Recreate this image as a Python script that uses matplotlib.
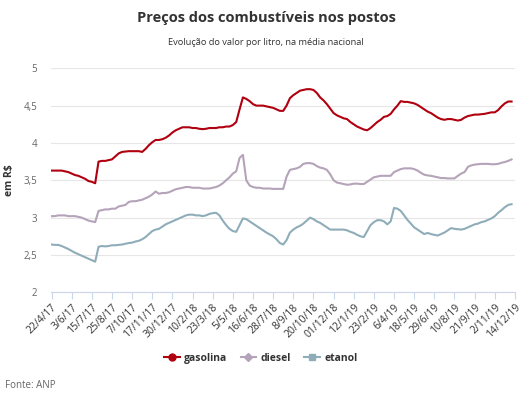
import numpy as np
import matplotlib.pyplot as plt

plt.rcParams['font.family'] = ['Open Sans', 'DejaVu Sans']

# ---- data (weekly, average national price per litre) ----
tick_labels = ['22/4/17', '3/6/17', '15/7/17', '25/8/17', '7/10/17', '17/11/17',
               '30/12/17', '10/2/18', '23/3/18', '5/5/18', '16/6/18', '28/7/18',
               '8/9/18', '20/10/18', '01/12/18', '12/1/19', '23/2/19', '6/4/19',
               '18/5/19', '29/6/19', '10/8/19', '21/9/19', '2/11/19', '14/12/19']

gasolina = [3.63, 3.63, 3.63, 3.63, 3.62, 3.61, 3.59, 3.57, 3.56, 3.54,
            3.52, 3.49, 3.48, 3.46, 3.75, 3.76, 3.76, 3.77, 3.78, 3.82,
            3.86, 3.88, 3.885, 3.89, 3.89, 3.89, 3.89, 3.88, 3.92, 3.97,
            4.01, 4.04, 4.04, 4.05, 4.07, 4.10, 4.14, 4.17, 4.19, 4.21,
            4.21, 4.21, 4.20, 4.20, 4.19, 4.185, 4.19, 4.20, 4.20, 4.20,
            4.21, 4.21, 4.22, 4.22, 4.24, 4.28, 4.45, 4.61, 4.59, 4.56,
            4.52, 4.50, 4.50, 4.50, 4.49, 4.48, 4.47, 4.45, 4.43, 4.43,
            4.50, 4.60, 4.64, 4.67, 4.70, 4.71, 4.72, 4.72, 4.71, 4.67,
            4.61, 4.57, 4.52, 4.46, 4.40, 4.37, 4.35, 4.33, 4.32, 4.28,
            4.25, 4.22, 4.20, 4.18, 4.17, 4.20, 4.24, 4.28, 4.31, 4.35,
            4.36, 4.39, 4.45, 4.50, 4.56, 4.55, 4.55, 4.54, 4.53, 4.51,
            4.48, 4.45, 4.42, 4.40, 4.37, 4.34, 4.32, 4.31, 4.32, 4.32,
            4.31, 4.30, 4.31, 4.34, 4.36, 4.37, 4.38, 4.38, 4.385, 4.39,
            4.40, 4.41, 4.41, 4.44, 4.49, 4.53, 4.555, 4.555]

diesel = [3.02, 3.02, 3.03, 3.03, 3.03, 3.02, 3.02, 3.02, 3.01, 3.00,
          2.98, 2.96, 2.95, 2.94, 3.09, 3.10, 3.11, 3.11, 3.12, 3.12,
          3.15, 3.16, 3.17, 3.21, 3.22, 3.22, 3.23, 3.24, 3.26, 3.28,
          3.31, 3.35, 3.32, 3.33, 3.33, 3.34, 3.36, 3.38, 3.39, 3.40,
          3.41, 3.41, 3.40, 3.40, 3.40, 3.39, 3.39, 3.39, 3.40, 3.41,
          3.43, 3.46, 3.50, 3.54, 3.59, 3.62, 3.80, 3.84, 3.50, 3.43,
          3.41, 3.40, 3.40, 3.39, 3.39, 3.39, 3.385, 3.385, 3.385, 3.385,
          3.55, 3.64, 3.65, 3.66, 3.68, 3.72, 3.73, 3.73, 3.72, 3.69,
          3.67, 3.66, 3.64, 3.58, 3.50, 3.47, 3.46, 3.45, 3.44, 3.445,
          3.455, 3.455, 3.45, 3.45, 3.48, 3.51, 3.54, 3.55, 3.56, 3.56,
          3.56, 3.56, 3.61, 3.63, 3.65, 3.66, 3.66, 3.66, 3.65, 3.63,
          3.60, 3.575, 3.565, 3.56, 3.55, 3.54, 3.53, 3.53, 3.525, 3.525,
          3.525, 3.56, 3.59, 3.61, 3.68, 3.70, 3.71, 3.715, 3.72, 3.72,
          3.72, 3.715, 3.715, 3.72, 3.735, 3.745, 3.76, 3.78]

etanol = [2.64, 2.635, 2.635, 2.62, 2.60, 2.58, 2.555, 2.53, 2.51, 2.49,
          2.47, 2.45, 2.43, 2.41, 2.61, 2.62, 2.615, 2.62, 2.63, 2.63,
          2.635, 2.64, 2.65, 2.66, 2.665, 2.68, 2.69, 2.71, 2.74, 2.78,
          2.82, 2.84, 2.85, 2.88, 2.91, 2.93, 2.95, 2.97, 2.99, 3.01,
          3.03, 3.04, 3.04, 3.03, 3.03, 3.02, 3.03, 3.05, 3.06, 3.065,
          3.03, 2.96, 2.90, 2.85, 2.82, 2.81, 2.90, 2.99, 2.98, 2.95,
          2.92, 2.89, 2.86, 2.83, 2.80, 2.775, 2.75, 2.71, 2.66, 2.64,
          2.70, 2.80, 2.84, 2.87, 2.89, 2.92, 2.96, 3.00, 2.98, 2.95,
          2.93, 2.90, 2.87, 2.84, 2.84, 2.84, 2.84, 2.84, 2.83, 2.81,
          2.795, 2.77, 2.75, 2.74, 2.82, 2.90, 2.94, 2.966, 2.966, 2.95,
          2.91, 2.95, 3.13, 3.12, 3.09, 3.03, 2.97, 2.92, 2.87, 2.84,
          2.81, 2.78, 2.795, 2.78, 2.77, 2.76, 2.78, 2.80, 2.83, 2.86,
          2.85, 2.845, 2.84, 2.85, 2.87, 2.89, 2.91, 2.92, 2.94, 2.95,
          2.97, 2.99, 3.02, 3.065, 3.10, 3.14, 3.17, 3.18]

semanas = np.arange(len(gasolina))

##==============================================================================
fig = plt.figure(figsize=(5.32, 3.97), dpi=100)
ax = fig.add_axes([0.0959, 0.2637, 0.872, 0.5643])

ax.plot(semanas, gasolina, color='#b0000f', lw=1.5, label='gasolina')
ax.plot(semanas, diesel, color='#b5a3b9', lw=1.5, label='diesel')
ax.plot(semanas, etanol, color='#8fadb9', lw=1.5, label='etanol')

ax.set_xlim(-0.15, 138)
ax.set_ylim(2, 5)
ax.set_yticks([2, 2.5, 3, 3.5, 4, 4.5, 5])
ax.set_yticklabels(['2', '2,5', '3', '3,5', '4', '4,5', '5'], fontsize=7, color='#666666')
ax.set_xticks(np.arange(0, len(tick_labels) * 6, 6))
ax.set_xticklabels(tick_labels, rotation=45, ha='right', rotation_mode='anchor',
                   fontsize=7.5, color='#333333')
ax.tick_params(axis='y', length=0, pad=10)
ax.tick_params(axis='x', length=5, color='#ccd6eb', pad=2)
ax.grid(axis='y', color='#e6e6e6', lw=0.8)
ax.set_axisbelow(True)
for s in ['top', 'right', 'left']:
    ax.spines[s].set_visible(False)
ax.spines['bottom'].set_color('#ccd6eb')
ax.set_ylabel('em R$', fontsize=7.5, fontweight='bold', color='#333333', labelpad=6)

fig.text(0.5, 0.955, 'Preços dos combustíveis nos postos', ha='center', va='center',
         fontsize=10.5, fontweight='bold', color='#333333')
fig.text(0.5, 0.893, 'Evolução do valor por litro, na média nacional', ha='center',
         va='center', fontsize=6.7, color='#333333')
fig.text(0.01, 0.03, 'Fonte: ANP', ha='left', va='center', fontsize=7, color='#666666')

h1, = ax.plot([], [], color='#b0000f', lw=1.5, marker='o', ms=5)
h2, = ax.plot([], [], color='#b5a3b9', lw=1.5, marker='D', ms=4)
h3, = ax.plot([], [], color='#8fadb9', lw=1.5, marker='s', ms=4.5)
leg = fig.legend([h1, h2, h3], ['gasolina', 'diesel', 'etanol'], loc='center',
                 bbox_to_anchor=(0.49, 0.098), ncol=3, frameon=False, handlelength=1.5,
                 columnspacing=1.3, handletextpad=0.4,
                 prop={'size': 7.5, 'weight': 'bold'})
for t in leg.get_texts():
    t.set_color('#333333')

fig.savefig('out.png', dpi=100)
